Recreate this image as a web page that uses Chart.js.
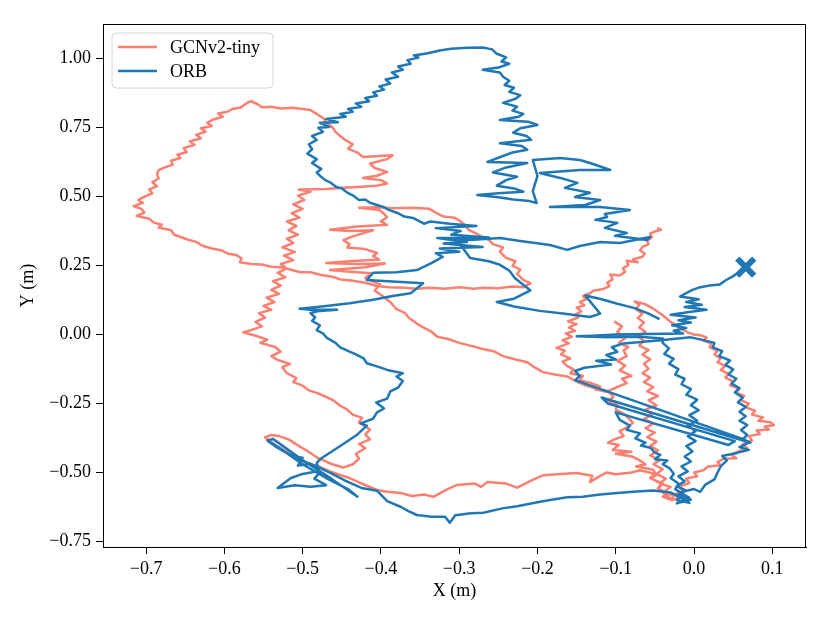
<!DOCTYPE html>
<html>
<head>
<meta charset="utf-8">
<script src="https://cdn.jsdelivr.net/npm/chart.js@4.4.0/dist/chart.umd.min.js"></script>
<style>
  html, body { margin: 0; padding: 0; background: #ffffff; }
  #grafico { display: block; }
</style>
</head>
<body>
<canvas id="grafico" width="830" height="623"></canvas>
<script>
// ticks
const xTicks = [-0.7, -0.6, -0.5, -0.4, -0.3, -0.2, -0.1, 0.0, 0.1];
const yTicks = [-0.75, -0.5, -0.25, 0.0, 0.25, 0.5, 0.75, 1.0];
const seriesNames = ["GCNv2-tiny", "ORB"];

// GCNv2-tiny trajectory, [x, y] in metres, in travel order
const gcnHookDescent = [
  [-0.047,0.387],[-0.042,0.380],[-0.050,0.374],[-0.056,0.366],[-0.054,0.352],[-0.060,0.340],[-0.058,0.328],
  [-0.066,0.318],[-0.069,0.305],[-0.063,0.294],[-0.066,0.282],[-0.078,0.272],[-0.072,0.262],[-0.086,0.268],
  [-0.084,0.252],[-0.091,0.240],[-0.088,0.228],[-0.095,0.214],[-0.107,0.218],[-0.104,0.200],[-0.111,0.188],
  [-0.108,0.176],[-0.117,0.164],[-0.128,0.160],[-0.133,0.150],[-0.142,0.140],[-0.138,0.128],[-0.146,0.118],
  [-0.140,0.106],[-0.150,0.098],[-0.144,0.084],[-0.152,0.072],[-0.148,0.062],[-0.161,0.048],[-0.150,0.038],
  [-0.160,0.026],[-0.152,0.014],[-0.164,0.004],[-0.156,-0.008],[-0.168,-0.020],[-0.160,-0.032],[-0.176,-0.048],
  [-0.165,-0.058],[-0.170,-0.072],[-0.158,-0.086],[-0.168,-0.098],[-0.162,-0.114],[-0.154,-0.126],[-0.158,-0.140],
  [-0.142,-0.150],[-0.146,-0.165],[-0.132,-0.175],[-0.120,-0.188],[-0.126,-0.198],[-0.108,-0.210],[-0.103,-0.226],
  [-0.110,-0.240],[-0.098,-0.255],[-0.100,-0.272],[-0.088,-0.290],[-0.078,-0.320],[-0.084,-0.334],[-0.095,-0.350],
  [-0.090,-0.368],[-0.102,-0.380],[-0.110,-0.392],[-0.096,-0.400],[-0.104,-0.418],[-0.080,-0.425],[-0.100,-0.432],
  [-0.078,-0.443],[-0.070,-0.455],[-0.062,-0.470],[-0.074,-0.478],[-0.052,-0.490],[-0.048,-0.510],[-0.056,-0.520],
  [-0.042,-0.540],[-0.046,-0.558],[-0.034,-0.575],[-0.040,-0.588],[-0.030,-0.598]
];
const gcnColumnUp = [
  [-0.026,-0.585],[-0.038,-0.570],[-0.030,-0.552],[-0.044,-0.540],[-0.036,-0.522],[-0.048,-0.505],[-0.040,-0.488],
  [-0.052,-0.470],[-0.044,-0.455],[-0.056,-0.438],[-0.046,-0.420],[-0.056,-0.404],[-0.048,-0.388],[-0.060,-0.372],
  [-0.050,-0.355],[-0.062,-0.340],[-0.052,-0.322],[-0.064,-0.306],[-0.054,-0.290],[-0.062,-0.272],[-0.048,-0.256],
  [-0.058,-0.238],[-0.046,-0.222],[-0.060,-0.206],[-0.052,-0.190],[-0.064,-0.172],[-0.056,-0.156],[-0.066,-0.140],
  [-0.058,-0.124],[-0.064,-0.106],[-0.056,-0.090],[-0.066,-0.072],[-0.058,-0.056],[-0.070,-0.040],[-0.064,-0.022],
  [-0.072,-0.006],[-0.062,0.010],[-0.070,0.026],[-0.064,0.044],[-0.072,0.060],[-0.066,0.076],[-0.074,0.092],
  [-0.070,0.108],[-0.076,0.120],[-0.064,0.112],[-0.052,0.094],[-0.040,0.070],[-0.030,0.046],[-0.018,0.024],
  [-0.008,0.008],[0.000,0.000]
];
const gcnRightLoop = [
  [0.008,-0.002],[0.016,-0.010],[0.012,-0.022],[0.022,-0.032],[0.020,-0.046],[0.030,-0.058],[0.026,-0.072],
  [0.034,-0.086],[0.030,-0.100],[0.040,-0.114],[0.034,-0.128],[0.044,-0.142],[0.040,-0.156],[0.050,-0.170],
  [0.046,-0.184],[0.058,-0.196],[0.054,-0.210],[0.064,-0.222],[0.060,-0.238],[0.070,-0.250],[0.066,-0.264],
  [0.078,-0.276],[0.074,-0.290],[0.088,-0.300],[0.082,-0.312],[0.098,-0.318],[0.102,-0.328],[0.090,-0.334],
  [0.096,-0.344],[0.080,-0.348],[0.084,-0.360],[0.070,-0.368],[0.074,-0.384],[0.062,-0.398],[0.068,-0.412],
  [0.056,-0.424],[0.048,-0.436],[0.054,-0.448],[0.038,-0.450],[0.030,-0.462],[0.034,-0.474],[0.018,-0.478],
  [0.012,-0.492],[0.000,-0.500],[0.004,-0.514],[-0.010,-0.522],[-0.006,-0.538],[-0.018,-0.550],[-0.014,-0.566],
  [-0.024,-0.578],[-0.020,-0.592],[-0.028,-0.600]
];
const gcnBottom = [
  [-0.036,-0.580],[-0.046,-0.560],[-0.040,-0.540],[-0.056,-0.520],[-0.050,-0.505],[-0.069,-0.492],[-0.080,-0.500],
  [-0.100,-0.506],[-0.112,-0.500],[-0.120,-0.512],[-0.133,-0.535],[-0.130,-0.512],[-0.150,-0.502],[-0.170,-0.505],
  [-0.193,-0.510],[-0.205,-0.525],[-0.226,-0.555],[-0.240,-0.540],[-0.264,-0.534],[-0.272,-0.552],[-0.280,-0.540],
  [-0.303,-0.545],[-0.318,-0.565],[-0.333,-0.588],[-0.345,-0.580],[-0.360,-0.585],[-0.375,-0.574],[-0.392,-0.570],
  [-0.405,-0.563],[-0.418,-0.548],[-0.427,-0.537],[-0.440,-0.520],[-0.452,-0.509]
];
const gcnSmallLoop = [
  [-0.465,-0.496],[-0.478,-0.480],[-0.490,-0.470],[-0.503,-0.456],[-0.512,-0.440],[-0.525,-0.418],[-0.535,-0.400],
  [-0.542,-0.385],[-0.548,-0.372],[-0.540,-0.364],[-0.530,-0.368],[-0.518,-0.380],[-0.508,-0.398],[-0.495,-0.420],
  [-0.480,-0.448],[-0.462,-0.470],[-0.448,-0.482],[-0.436,-0.470],[-0.428,-0.450],[-0.432,-0.432],[-0.420,-0.412],
  [-0.428,-0.396],[-0.414,-0.380],[-0.420,-0.362],[-0.414,-0.345],[-0.420,-0.332],[-0.428,-0.318],[-0.424,-0.302],
  [-0.436,-0.290],[-0.444,-0.270],[-0.452,-0.258],[-0.461,-0.238],[-0.470,-0.226],[-0.481,-0.212],[-0.492,-0.202],
  [-0.500,-0.185],[-0.512,-0.172],[-0.508,-0.158],[-0.520,-0.140],[-0.526,-0.118],[-0.516,-0.106],[-0.532,-0.092],
  [-0.540,-0.078],[-0.528,-0.062],[-0.535,-0.045],[-0.554,-0.030],[-0.545,-0.018],[-0.560,-0.004],[-0.576,0.008]
];
const gcnLeftColumn = [
  [-0.566,0.016],[-0.552,0.030],[-0.560,0.046],[-0.548,0.062],[-0.556,0.078],[-0.540,0.090],[-0.550,0.104],
  [-0.536,0.118],[-0.546,0.134],[-0.530,0.148],[-0.540,0.162],[-0.528,0.178],[-0.538,0.194],[-0.522,0.208],
  [-0.532,0.224],[-0.520,0.240],[-0.528,0.256],[-0.512,0.270],[-0.524,0.286],[-0.510,0.300],[-0.526,0.316],
  [-0.512,0.332],[-0.520,0.348],[-0.506,0.362],[-0.518,0.378],[-0.508,0.394],[-0.520,0.410],[-0.504,0.424],
  [-0.514,0.440],[-0.500,0.456],[-0.512,0.472],[-0.498,0.488],[-0.506,0.504],[-0.490,0.518],[-0.505,0.526]
];
const gcnUpperWiggle = [
  [-0.470,0.528],[-0.448,0.532],[-0.425,0.536],[-0.405,0.540],[-0.392,0.548],[-0.400,0.560],[-0.423,0.568],
  [-0.405,0.576],[-0.392,0.590],[-0.408,0.604],[-0.414,0.620],[-0.392,0.636],[-0.385,0.650],[-0.423,0.644],
  [-0.430,0.660],[-0.442,0.674],[-0.436,0.690],[-0.445,0.705],[-0.452,0.720],[-0.458,0.735],[-0.462,0.752],
  [-0.469,0.767],[-0.474,0.785],[-0.482,0.800],[-0.490,0.814]
];
const gcnOuterLoop = [
  [-0.500,0.818],[-0.512,0.822],[-0.528,0.820],[-0.540,0.826],[-0.552,0.824],[-0.558,0.836],[-0.566,0.846],
  [-0.572,0.838],[-0.580,0.822],[-0.590,0.818],[-0.596,0.808],[-0.608,0.802],[-0.602,0.790],[-0.614,0.780],
  [-0.622,0.768],[-0.616,0.756],[-0.630,0.748],[-0.624,0.736],[-0.636,0.724],[-0.630,0.712],[-0.644,0.700],
  [-0.638,0.688],[-0.652,0.676],[-0.648,0.662],[-0.660,0.652],[-0.656,0.640],[-0.668,0.630],[-0.666,0.616],
  [-0.676,0.606],[-0.684,0.596],[-0.686,0.582],[-0.684,0.566],[-0.692,0.552],[-0.686,0.538],[-0.696,0.526],
  [-0.692,0.512],[-0.702,0.500],[-0.710,0.488],[-0.704,0.478],[-0.716,0.466],[-0.706,0.456],[-0.702,0.442],
  [-0.712,0.430],[-0.696,0.420],[-0.690,0.406],[-0.680,0.398],[-0.684,0.388],[-0.668,0.378],[-0.664,0.362],
  [-0.654,0.352],[-0.646,0.344],[-0.636,0.336],[-0.628,0.322],[-0.616,0.312],[-0.604,0.306],[-0.596,0.294],
  [-0.584,0.288],[-0.578,0.276],[-0.580,0.262],[-0.566,0.256],[-0.552,0.254],[-0.540,0.246],[-0.528,0.244],
  [-0.516,0.236],[-0.503,0.226],[-0.490,0.226],[-0.476,0.216],[-0.462,0.210],[-0.452,0.200],[-0.438,0.196],
  [-0.420,0.188],[-0.405,0.176],[-0.390,0.172],[-0.370,0.170],[-0.355,0.166],[-0.337,0.170],[-0.320,0.166],
  [-0.299,0.172],[-0.282,0.166],[-0.269,0.170],[-0.250,0.168],[-0.232,0.174],[-0.218,0.172],[-0.209,0.186]
];
const gcnMiddle = [
  [-0.218,0.198],[-0.226,0.220],[-0.222,0.236],[-0.232,0.250],[-0.228,0.266],[-0.240,0.278],[-0.248,0.300],
  [-0.244,0.316],[-0.257,0.328],[-0.262,0.344],[-0.270,0.352],[-0.278,0.366],[-0.288,0.380],[-0.292,0.396],
  [-0.299,0.412],[-0.306,0.424],[-0.320,0.428],[-0.330,0.442],[-0.338,0.456],[-0.360,0.460],[-0.385,0.458],
  [-0.405,0.462],[-0.428,0.460],[-0.402,0.452],[-0.397,0.440],[-0.392,0.426],[-0.400,0.410],[-0.392,0.398],
  [-0.430,0.392],[-0.465,0.380],[-0.440,0.376],[-0.410,0.378],[-0.436,0.356],[-0.448,0.342],[-0.440,0.328],
  [-0.443,0.316],[-0.420,0.310],[-0.405,0.296],[-0.410,0.284],[-0.402,0.272],[-0.440,0.266],[-0.470,0.260],
  [-0.430,0.256],[-0.395,0.258],[-0.420,0.244],[-0.465,0.234],[-0.440,0.228],[-0.412,0.222]
];
const gcnInnerLine = [
  [-0.420,0.205],[-0.401,0.182],[-0.408,0.160],[-0.398,0.140],[-0.388,0.118],[-0.380,0.092],[-0.370,0.080],
  [-0.364,0.060],[-0.354,0.040],[-0.346,0.026],[-0.336,0.012],[-0.328,-0.008],[-0.314,-0.016],[-0.300,-0.030],
  [-0.286,-0.040],[-0.270,-0.052],[-0.256,-0.060],[-0.244,-0.078],[-0.228,-0.090],[-0.213,-0.100],[-0.204,-0.118],
  [-0.193,-0.136],[-0.178,-0.145],[-0.162,-0.152],[-0.150,-0.170],[-0.138,-0.185],[-0.125,-0.196],[-0.110,-0.205],
  [-0.098,-0.190],[-0.086,-0.176],[-0.092,-0.160],[-0.080,-0.150],[-0.095,-0.130],[-0.088,-0.112],[-0.098,-0.095],
  [-0.086,-0.078],[-0.090,-0.058],[-0.084,-0.045],[-0.096,-0.030],[-0.088,-0.012],[-0.098,0.010],[-0.092,0.030],
  [-0.102,0.048]
];

// ORB trajectory, [x, y] in metres, in travel order
const orbTail = [
  [0.066,0.245],[0.058,0.228],[0.050,0.212],[0.040,0.196],[0.033,0.182],[0.020,0.178],[0.008,0.172],
  [-0.002,0.162],[-0.010,0.150],[-0.018,0.138],[0.006,0.128],[-0.010,0.118],[0.010,0.108],[-0.012,0.100],
  [0.016,0.090],[-0.006,0.082],[-0.030,0.072],[0.002,0.062],[-0.020,0.052],[-0.004,0.044],[-0.028,0.034],
  [-0.010,0.024],[-0.026,0.014],[-0.014,0.004]
];
const orbRightBlock = [
  [-0.060,0.002],[-0.100,0.000],[-0.130,-0.004],[-0.150,-0.006],[-0.110,-0.010],[-0.070,-0.008],[-0.040,-0.014],
  [-0.040,-0.030],[-0.032,-0.050],[-0.038,-0.070],[-0.026,-0.088],[-0.032,-0.105],[-0.020,-0.125],[-0.024,-0.145],
  [-0.012,-0.160],[-0.016,-0.180],[-0.004,-0.198],[-0.010,-0.218],[0.004,-0.236],[-0.004,-0.256],[0.006,-0.274],
  [-0.006,-0.292],[0.004,-0.312],[-0.008,-0.330],[0.002,-0.350],[-0.008,-0.368],[0.002,-0.386],[-0.010,-0.404],
  [-0.002,-0.424],[-0.012,-0.442],[-0.004,-0.460],[-0.016,-0.478],[-0.008,-0.496],[-0.020,-0.514],[-0.012,-0.532],
  [-0.022,-0.550],[-0.010,-0.566],[-0.020,-0.580],[-0.004,-0.598],[-0.022,-0.612],[-0.006,-0.592],[-0.018,-0.572],
  [0.000,-0.560],[0.008,-0.570],[0.014,-0.545],[0.026,-0.525],[0.030,-0.500],[0.034,-0.478],[0.042,-0.456],
  [0.036,-0.440],[0.056,-0.428],[0.070,-0.418],[0.058,-0.408],[0.070,-0.392],[0.062,-0.380],[0.068,-0.364],
  [0.060,-0.346],[0.068,-0.328],[0.058,-0.312],[0.066,-0.296],[0.058,-0.280],[0.066,-0.262],[0.056,-0.246],
  [0.062,-0.228],[0.052,-0.210],[0.058,-0.194],[0.048,-0.178],[0.054,-0.160],[0.044,-0.144],[0.050,-0.126],
  [0.040,-0.110],[0.046,-0.094],[0.032,-0.078],[0.036,-0.060],[0.024,-0.046],[0.026,-0.030],[0.012,-0.020],
  [-0.004,-0.010]
];
const orbDiagonals = [
  [-0.050,-0.022],[-0.090,-0.032],[-0.105,-0.046],[-0.098,-0.062],[-0.112,-0.074],[-0.100,-0.090],[-0.125,-0.095],
  [-0.106,-0.108],[-0.140,-0.120],[-0.152,-0.132],[-0.146,-0.150],[-0.152,-0.165],[0.062,-0.378],[0.072,-0.392],
  [-0.118,-0.228],[-0.110,-0.250],[0.052,-0.386],[0.044,-0.400],[-0.100,-0.282],[-0.095,-0.309],[-0.082,-0.330],
  [-0.086,-0.345],[-0.069,-0.358],[-0.075,-0.376],[-0.062,-0.392],[-0.068,-0.402],[-0.056,-0.410],[-0.050,-0.428],
  [-0.043,-0.436],[-0.050,-0.452],[-0.034,-0.456],[-0.040,-0.470],[-0.031,-0.485],[-0.026,-0.505],[-0.030,-0.520],
  [-0.020,-0.540],[-0.024,-0.560],[-0.014,-0.578],[-0.022,-0.600],[-0.006,-0.610],[-0.018,-0.590]
];
const orbBottom = [
  [-0.030,-0.572],[-0.052,-0.565],[-0.078,-0.570],[-0.098,-0.574],[-0.120,-0.580],[-0.142,-0.588],[-0.162,-0.590],
  [-0.184,-0.600],[-0.200,-0.608],[-0.226,-0.622],[-0.245,-0.630],[-0.269,-0.646],[-0.285,-0.648],[-0.305,-0.655],
  [-0.312,-0.682],[-0.318,-0.660],[-0.335,-0.660],[-0.354,-0.654],[-0.365,-0.640],[-0.375,-0.624],[-0.392,-0.604],
  [-0.405,-0.566],[-0.425,-0.556],[-0.445,-0.530],[-0.462,-0.505],[-0.480,-0.480],[-0.500,-0.458],[-0.520,-0.430],
  [-0.535,-0.405],[-0.545,-0.385]
];
const orbTangle = [
  [-0.538,-0.378],[-0.500,-0.455],[-0.462,-0.525],[-0.430,-0.588],[-0.442,-0.560],[-0.470,-0.520],[-0.500,-0.470],
  [-0.525,-0.420],[-0.540,-0.392],[-0.530,-0.410],[-0.515,-0.440],[-0.500,-0.446],[-0.506,-0.475],[-0.490,-0.468],
  [-0.480,-0.495],[-0.500,-0.505],[-0.515,-0.520],[-0.532,-0.556],[-0.510,-0.546],[-0.490,-0.552],[-0.470,-0.546],
  [-0.485,-0.522],[-0.478,-0.500],[-0.482,-0.465],[-0.476,-0.448]
];
const orbMidLeft = [
  [-0.450,-0.400],[-0.430,-0.362],[-0.418,-0.330],[-0.426,-0.322],[-0.410,-0.305],[-0.405,-0.282],[-0.396,-0.268],
  [-0.406,-0.246],[-0.392,-0.232],[-0.388,-0.206],[-0.378,-0.192],[-0.372,-0.168],[-0.380,-0.152],[-0.372,-0.140],
  [-0.392,-0.128],[-0.402,-0.118],[-0.418,-0.104],[-0.422,-0.086],[-0.432,-0.072],[-0.440,-0.062],[-0.452,-0.046],
  [-0.458,-0.030],[-0.469,-0.012],[-0.474,0.004],[-0.482,0.016],[-0.478,0.034],[-0.488,0.050],[-0.484,0.062],
  [-0.490,0.078],[-0.478,0.086],[-0.456,0.090],[-0.490,0.090],[-0.504,0.094]
];
const orbBackUp = [
  [-0.470,0.104],[-0.440,0.114],[-0.410,0.126],[-0.385,0.140],[-0.362,0.150],[-0.346,0.186],[-0.380,0.192],
  [-0.418,0.198],[-0.410,0.224],[-0.380,0.226],[-0.354,0.234],[-0.335,0.260],[-0.321,0.282],[-0.330,0.295],
  [-0.300,0.300],[-0.325,0.312],[-0.270,0.318],[-0.320,0.330],[-0.290,0.336],[-0.328,0.350],[-0.262,0.352],
  [-0.310,0.362],[-0.298,0.376],[-0.330,0.386],[-0.278,0.394],[-0.312,0.402]
];
const orbLoop = [
  [-0.337,0.410],[-0.345,0.402],[-0.359,0.423],[-0.370,0.428],[-0.379,0.441],[-0.390,0.452],[-0.397,0.463],
  [-0.405,0.470],[-0.414,0.478],[-0.420,0.490],[-0.428,0.488],[-0.436,0.505],[-0.443,0.515],[-0.450,0.530],
  [-0.457,0.535],[-0.465,0.552],[-0.471,0.560],[-0.478,0.576],[-0.482,0.588],[-0.476,0.600],[-0.488,0.622],
  [-0.482,0.636],[-0.494,0.656],[-0.488,0.672],[-0.492,0.690],[-0.482,0.706],[-0.488,0.720],[-0.474,0.735],
  [-0.480,0.750],[-0.466,0.753],[-0.478,0.768],[-0.455,0.770],[-0.470,0.782],[-0.445,0.790],[-0.452,0.800],
  [-0.436,0.808],[-0.442,0.818],[-0.425,0.826],[-0.432,0.838],[-0.415,0.846],[-0.420,0.858],[-0.405,0.866],
  [-0.410,0.878],[-0.396,0.888],[-0.402,0.900],[-0.388,0.910],[-0.394,0.925],[-0.378,0.935],[-0.386,0.950],
  [-0.372,0.960],[-0.378,0.972],[-0.362,0.982],[-0.366,0.995],[-0.352,1.004],[-0.358,1.012],[-0.340,1.020],
  [-0.325,1.030],[-0.310,1.036],[-0.290,1.040],[-0.270,1.041],[-0.258,1.034],[-0.252,1.018],[-0.240,1.005],
  [-0.246,0.990],[-0.236,0.982],[-0.250,0.968],[-0.270,0.960],[-0.248,0.950],[-0.244,0.935],[-0.236,0.920],
  [-0.242,0.905],[-0.230,0.895],[-0.236,0.880],[-0.222,0.868],[-0.228,0.855],[-0.244,0.840],[-0.226,0.826],
  [-0.232,0.812],[-0.218,0.800],[-0.224,0.790],[-0.248,0.778],[-0.212,0.772],[-0.200,0.760],[-0.222,0.748],
  [-0.231,0.732],[-0.214,0.720],[-0.208,0.706],[-0.228,0.700],[-0.248,0.694],[-0.220,0.684],[-0.213,0.670],
  [-0.232,0.660],[-0.264,0.626],[-0.213,0.622],[-0.240,0.606],[-0.257,0.588],[-0.226,0.572],[-0.240,0.560],
  [-0.252,0.540],[-0.230,0.530],[-0.218,0.518],[-0.250,0.512],[-0.277,0.506],[-0.250,0.498],[-0.231,0.490],
  [-0.210,0.484],[-0.201,0.477]
];
const orbTopRight = [
  [-0.206,0.520],[-0.200,0.575],[-0.206,0.633],[-0.171,0.640],[-0.146,0.633],[-0.133,0.622],[-0.107,0.597],
  [-0.146,0.597],[-0.197,0.586],[-0.171,0.568],[-0.149,0.550],[-0.165,0.532],[-0.133,0.514],[-0.152,0.499],
  [-0.120,0.488],[-0.139,0.470],[-0.184,0.463],[-0.120,0.463],[-0.082,0.452],[-0.114,0.437],[-0.111,0.426],
  [-0.126,0.416],[-0.098,0.405],[-0.114,0.387],[-0.086,0.368],[-0.101,0.358],[-0.060,0.343],[-0.056,0.354],
  [-0.095,0.332],[-0.120,0.336],[-0.146,0.321],[-0.162,0.307],[-0.184,0.325],[-0.222,0.339],[-0.248,0.350],
  [-0.286,0.343],[-0.305,0.350],[-0.286,0.278],[-0.262,0.266],[-0.248,0.253],[-0.236,0.232],[-0.229,0.205],
  [-0.209,0.160],[-0.230,0.130],[-0.252,0.118],[-0.230,0.102],[-0.197,0.086],[-0.165,0.076],[-0.133,0.064],
  [-0.120,0.076],[-0.139,0.142],[-0.118,0.128],[-0.098,0.112],[-0.076,0.096],[-0.058,0.076],[-0.044,0.056]
];
const orbMarker = [[0.066, 0.245]];

const gcnPath = [].concat(gcnHookDescent, gcnColumnUp, gcnRightLoop, gcnBottom, gcnSmallLoop,
  gcnLeftColumn, gcnUpperWiggle, gcnOuterLoop, gcnMiddle, gcnInnerLine);
const orbPath = [].concat(orbTail, orbRightBlock, orbDiagonals, orbBottom, orbTangle,
  orbMidLeft, orbBackUp, orbLoop, orbTopRight);

const toPoints = (arr) => arr.map((p) => ({ x: p[0], y: p[1] }));
const colores = ["#fa8072", "#1f77b4"];
const fuente = "'Liberation Serif', 'DejaVu Serif', serif";

const fmt = (v, d) => {
  const s = Math.abs(v).toFixed(d);
  return v < -1e-9 ? "\u2212" + s : s;
};

// frame + legend drawn inside the plot area
const marcoPlugin = {
  id: "marco",
  afterDraw(chart) {
    const { ctx, chartArea: a } = chart;
    ctx.save();
    ctx.strokeStyle = "#000";
    ctx.lineWidth = 1;
    ctx.strokeRect(a.left + 0.5, a.top + 0.5, a.right - a.left - 1, a.bottom - a.top);

    const bx = a.left + 9, by = a.top + 9, bw = 161, bh = 55, r = 4;
    ctx.beginPath();
    ctx.moveTo(bx + r, by);
    ctx.arcTo(bx + bw, by, bx + bw, by + bh, r);
    ctx.arcTo(bx + bw, by + bh, bx, by + bh, r);
    ctx.arcTo(bx, by + bh, bx, by, r);
    ctx.arcTo(bx, by, bx + bw, by, r);
    ctx.closePath();
    ctx.fillStyle = "rgba(255,255,255,0.8)";
    ctx.fill();
    ctx.strokeStyle = "#d6d6d6";
    ctx.stroke();

    ctx.font = "18px " + fuente;
    ctx.textBaseline = "middle";
    seriesNames.forEach((name, i) => {
      const yy = by + 14 + i * 24;
      ctx.strokeStyle = colores[i];
      ctx.lineWidth = 2.5;
      ctx.beginPath();
      ctx.moveTo(bx + 6, yy);
      ctx.lineTo(bx + 45, yy);
      ctx.stroke();
      ctx.fillStyle = "#000";
      ctx.fillText(name, bx + 58, yy + 1);
    });
    ctx.restore();
  },
};

const grafico = document.getElementById("grafico").getContext("2d");
const myChart = new Chart(grafico, {
  type: "scatter",
  data: {
    datasets: [
      {
        label: seriesNames[0],
        data: toPoints(gcnPath),
        showLine: true,
        borderColor: colores[0],
        backgroundColor: colores[0],
        borderWidth: 2.5,
        borderJoinStyle: "round",
        pointRadius: 0,
        tension: 0,
        order: 2,
      },
      {
        label: seriesNames[1],
        data: toPoints(orbPath),
        showLine: true,
        borderColor: colores[1],
        backgroundColor: colores[1],
        borderWidth: 2.5,
        borderJoinStyle: "round",
        pointRadius: 0,
        tension: 0,
        order: 1,
      },
      {
        label: "marker",
        data: toPoints(orbMarker),
        showLine: false,
        pointStyle: "crossRot",
        pointRadius: 12,
        borderWidth: 6,
        borderColor: colores[1],
        backgroundColor: colores[1],
        order: 0,
      },
    ],
  },
  options: {
    responsive: false,
    animation: false,
    devicePixelRatio: 1,
    layout: { padding: { left: 0, right: 24, top: 24, bottom: 0 } },
    plugins: {
      legend: { display: false },
      tooltip: { enabled: false },
    },
    scales: {
      x: {
        type: "linear",
        min: -0.755,
        max: 0.143,
        afterBuildTicks: (s) => {
          s.ticks = xTicks.map((v) => ({ value: v }));
        },
        afterFit: (s) => {
          s.height = 76;
        },
        ticks: {
          callback: (v) => fmt(v, 1),
          color: "#000",
          font: { family: fuente, size: 18 },
          padding: 4,
          maxRotation: 0,
          autoSkip: false,
        },
        grid: { drawOnChartArea: false, drawTicks: true, tickLength: 7, color: "#000" },
        border: { display: true, color: "#000" },
        title: {
          display: true,
          text: "X (m)",
          color: "#000",
          font: { family: fuente, size: 18 },
          padding: { top: 0, bottom: 21 },
        },
      },
      y: {
        type: "linear",
        min: -0.77,
        max: 1.126,
        afterBuildTicks: (s) => {
          s.ticks = yTicks.map((v) => ({ value: v }));
        },
        afterFit: (s) => {
          s.width = 103;
        },
        ticks: {
          callback: (v) => fmt(v, 2),
          color: "#000",
          font: { family: fuente, size: 18 },
          padding: 5,
          autoSkip: false,
        },
        grid: { drawOnChartArea: false, drawTicks: true, tickLength: 7, color: "#000" },
        border: { display: true, color: "#000" },
        title: {
          display: true,
          text: "Y (m)",
          color: "#000",
          font: { family: fuente, size: 18 },
          padding: { top: 17, bottom: 0 },
        },
      },
    },
  },
  plugins: [marcoPlugin],
});
</script>
</body>
</html>
